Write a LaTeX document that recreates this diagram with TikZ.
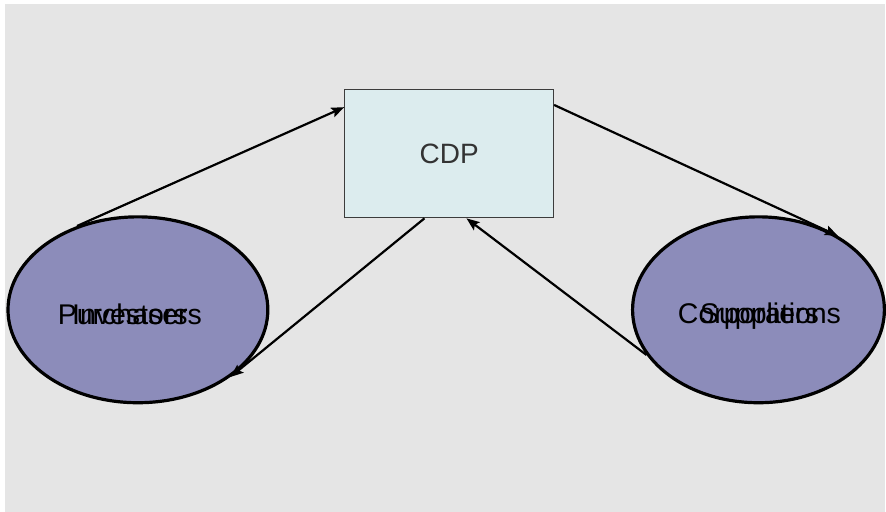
\documentclass[tikz,border=0pt]{standalone}
\usepackage{fontspec}
\setmainfont{Liberation Sans}
\usetikzlibrary{arrows.meta,shapes.geometric}
\definecolor{slidegray}{RGB}{229,229,229}
\definecolor{boxfill}{RGB}{220,236,238}
\definecolor{boxline}{RGB}{60,60,60}
\definecolor{ovalfill}{RGB}{140,140,186}

\begin{document}
\begin{tikzpicture}[x=1pt,y=1pt,>={Stealth[length=13pt,width=10pt,inset=2.5pt]},
 hub/.style={rectangle,draw=boxline,line width=1pt,fill=boxfill,
 minimum width=209pt,minimum height=128pt,inner sep=0pt,
 font=\fontsize{28}{30}\selectfont,text=black!80},
 party/.style={ellipse,draw=black,line width=3.2pt,fill=ovalfill,
 minimum width=260pt,minimum height=186pt,inner sep=0pt},
 tag/.style={anchor=base,inner sep=0pt,font=\fontsize{28.5}{30}\selectfont}]
 \fill[white] (0,0) rectangle (886,512);
 \fill[slidegray] (5,0) rectangle (886,508);

 \node[hub] (cdp) at (449.5,358) {CDP};
 \node[party] (buyers) at (138,202) {};
 \node[party,minimum width=252pt] (sellers) at (759,202) {};

 \node[tag] (purchasers) at (130,187) {Purchasers};
 \node[tag] (investors) at (130,187) {Investors};
 \node[tag] (corporations) at (760,188) {Corporations};
 \node[tag] (suppliers) at (760,188) {Suppliers};

 \path[->,line width=2.2pt]
 (buyers.126) edge (cdp.156)
 (cdp.249) edge (buyers.-36)
 (cdp.25) edge (sellers.43)
 (sellers.202) edge (cdp.285);
\end{tikzpicture}
\end{document}
